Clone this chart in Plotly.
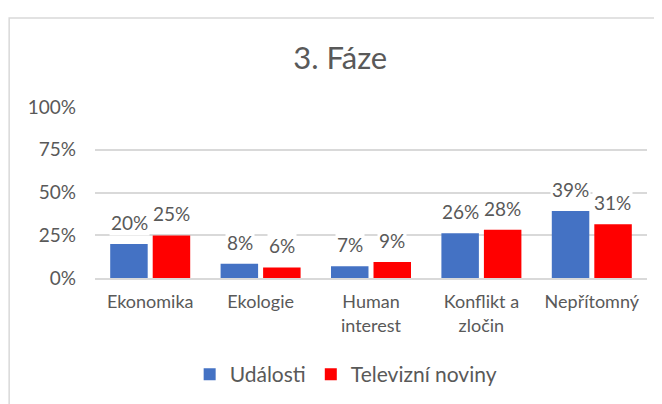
import plotly.graph_objects as go

categories = ["Ekonomika", "Ekologie", "Human<br>interest", "Konflikt a<br>zločin", "Nepřítomný"]
udalosti = [0.199, 0.084, 0.068, 0.261, 0.392]
televizni = [0.249, 0.062, 0.094, 0.282, 0.314]
series_names = ["Události", "Televizní noviny"]
y_ticks = [0, 0.25, 0.5, 0.75, 1.0]

FONT = "Lato"
GRAY = "#595959"
GRID = "#D9D9D9"

fig = go.Figure()
fig.add_trace(go.Bar(x=categories, y=udalosti, name=series_names[0],
                     marker=dict(color="#4472C4", line=dict(width=0))))
fig.add_trace(go.Bar(x=categories, y=televizni, name=series_names[1],
                     marker=dict(color="#FF0000", line=dict(width=0))))

annotations = []
for vals, shift in ((udalosti, -21), (televizni, 21)):
    for c, v in zip(categories, vals):
        annotations.append(dict(
            x=c, y=v, xref="x", yref="y", text=f"{round(v*100)}%",
            showarrow=False, xshift=shift, yshift=8, yanchor="bottom",
            bgcolor="white", borderpad=1,
            font=dict(family=FONT, size=19, color=GRAY)))

fig.update_layout(
    width=654, height=396,
    margin=dict(l=87, r=15, t=99, b=126, autoexpand=False),
    paper_bgcolor="white", plot_bgcolor="white",
    barmode="group", bargap=0.23, bargroupgap=0.118,
    font=dict(family=FONT, size=18, color=GRAY),
    title=dict(text="3. Fáze", x=0.508, xanchor="center", y=0.874, yanchor="middle",
               font=dict(family=FONT, size=31, color=GRAY)),
    legend=dict(orientation="h", x=0.455, xanchor="center", y=-0.565, yanchor="middle",
                font=dict(family=FONT, size=21, color=GRAY), itemwidth=30,
                traceorder="normal"),
    annotations=annotations,
    shapes=[dict(type="rect", xref="paper", yref="paper", x0=-0.1555, x1=1.3, y0=-1.2, y1=1.52,
                 line=dict(color=GRID, width=1.5), fillcolor="rgba(0,0,0,0)", layer="below")],
)
fig.update_yaxes(range=[0, 1], tickvals=y_ticks, tickformat=".0%", showgrid=True,
                 gridcolor=GRID, gridwidth=1.5, zeroline=False, showline=False,
                 tickfont=dict(family=FONT, size=19, color=GRAY), ticks="",
                 ticklabelstandoff=18, automargin=False)
fig.update_xaxes(showline=True, linecolor=GRID, linewidth=1.5, ticks="",
                 tickfont=dict(family=FONT, size=18, color=GRAY), ticklabelstandoff=7,
                 automargin=False)

fig.write_html("out.html")
